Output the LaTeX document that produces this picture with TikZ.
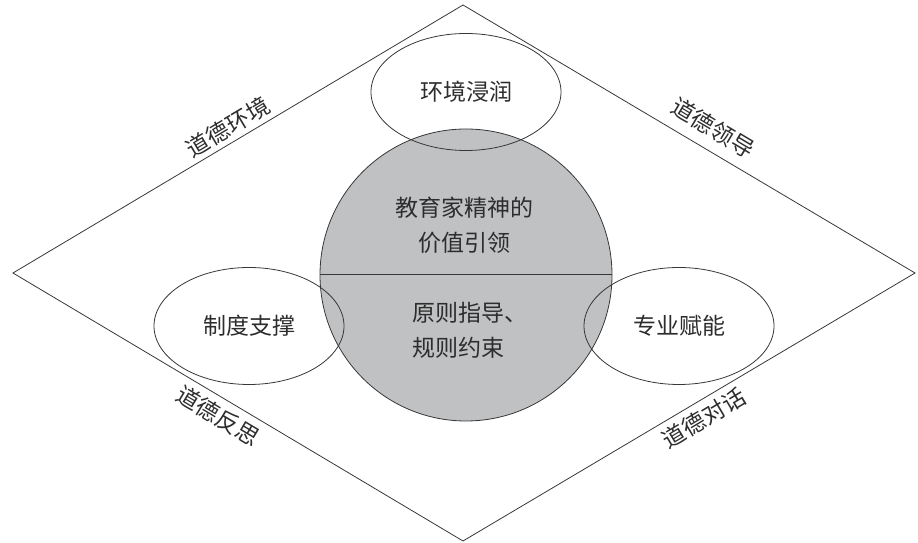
\documentclass[tikz,border=0pt]{standalone}
\usepackage{fontspec}
\setmainfont{Noto Sans CJK SC}
\usetikzlibrary{shapes.geometric}
\definecolor{coregray}{RGB}{192,193,195}
\definecolor{inkgray}{RGB}{45,45,45}
\definecolor{linegray}{RGB}{55,55,55}

\begin{document}
\begin{tikzpicture}[
x=1pt,y=1pt,
every node/.style={
align=center,
text=inkgray,
font=\fontsize{23}{35}\selectfont
},
lobe/.style={
ellipse,
draw=linegray,
line width=0.8pt,
minimum width=190pt,
minimum height=117pt,
inner sep=0pt
},
edgelabel/.style={
inner sep=0pt
}
]

\useasboundingbox (0,0) rectangle (918,543);

\coordinate (T) at (463,538);
\coordinate (L) at (13,270);
\coordinate (R) at (915,270);
\coordinate (B) at (463,2);

\draw[linegray, line width=0.8pt] (T) -- (R) -- (B) -- (L) -- cycle;

\node[circle, draw=linegray, line width=0.8pt, fill=coregray,
minimum size=292pt, inner sep=0pt] (core) at (466,268) {};
\draw[linegray, line width=1pt] (core.west) -- (core.east);

\node (vision) at (464,318) {教育家精神的\\价值引领};
\node[align=left, anchor=west, inner sep=0pt] (rule) at (412,213) {原则指导、\\规则约束};

\node[lobe] (env) at (466,451) {环境浸润};
\node[lobe] (sys) at (249,217) {制度支撑};
\node[lobe] (pro) at (679,217) {专业赋能};

\node[edgelabel, rotate=30.8] (la) at (228,416) {道德环境};
\node[edgelabel, rotate=-30.8] (lb) at (713,415) {道德领导};
\node[edgelabel, rotate=-30.8] (lc) at (218,127) {道德反思};
\node[edgelabel, rotate=30.8] (ld) at (704,125) {道德对话};

\end{tikzpicture}
\end{document}
